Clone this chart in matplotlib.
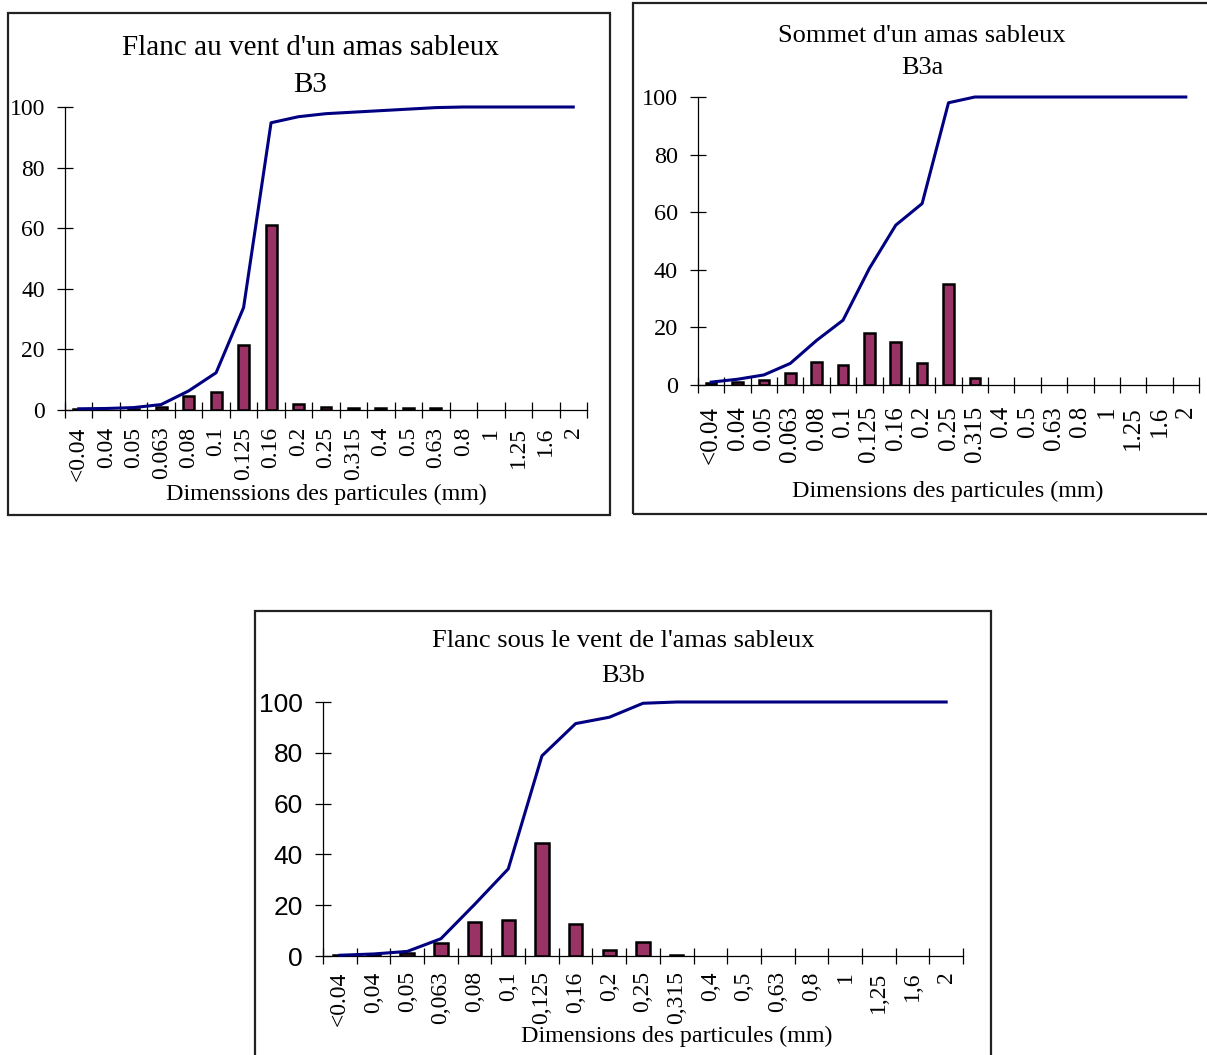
import matplotlib
matplotlib.use("Agg")
import matplotlib.pyplot as plt
from matplotlib.patches import Rectangle

W, H = 1207, 1055

# ---------------- data ----------------
cats_dot = ['<0.04', '0.04', '0.05', '0.063', '0.08', '0.1', '0.125', '0.16', '0.2',
            '0.25', '0.315', '0.4', '0.5', '0.63', '0.8', '1', '1.25', '1.6', '2']
cats_comma = ['<0.04', '0,04', '0,05', '0,063', '0,08', '0,1', '0,125', '0,16', '0,2',
              '0,25', '0,315', '0,4', '0,5', '0,63', '0,8', '1', '1,25', '1,6', '2']

b3_pct = [0.4, 0, 0.3, 1.0, 4.5, 6.0, 21.5, 61.0, 2.0, 1.0, 0.5, 0.5, 0.5, 0.5,
          0, 0, 0, 0, 0]
b3_cum = [0.4, 0.5, 0.8, 1.8, 6.3, 12.3, 33.8, 94.8, 96.8, 97.8, 98.3, 98.8, 99.3,
          99.8, 100, 100, 100, 100, 100]

b3a_pct = [0.6, 1.2, 1.6, 4.0, 8.0, 7.0, 18.0, 15.0, 7.5, 35.0, 2.5, 0, 0, 0,
           0, 0, 0, 0, 0]
b3a_cum = [1.0, 2.0, 3.5, 7.5, 15.5, 22.5, 40.5, 55.5, 63.0, 98.0, 100, 100, 100,
           100, 100, 100, 100, 100, 100]

b3b_pct = [0.3, 0.5, 1.0, 5.0, 13.5, 14.0, 44.5, 12.5, 2.5, 5.5, 0.5, 0, 0, 0,
           0, 0, 0, 0, 0]
b3b_cum = [0.3, 0.8, 1.8, 6.8, 20.3, 34.3, 78.8, 91.5, 94.0, 99.5, 100, 100, 100,
           100, 100, 100, 100, 100, 100]

yticks = [0, 20, 40, 60, 80, 100]

BAR = '#993366'
LINE = '#000080'
SERIF = ['Liberation Serif', 'DejaVu Serif']
SANS = ['Liberation Sans', 'DejaVu Sans']

fig = plt.figure(figsize=(W / 100, H / 100), dpi=100)


def fx(x):
    return x / W


def fy(y):
    return 1 - y / H


def box(l, t, r, b):
    fig.patches.append(Rectangle((fx(l), fy(b)), fx(r) - fx(l), fy(t) - fy(b),
                                 transform=fig.transFigure, fill=False,
                                 edgecolor='#222222', linewidth=1.6, clip_on=False))


def panel(l, r, t, b, cats, pct, cum, xtick_fs, ytick_fs, ytick_family, xlab_pad,
          title, title_fs, title_x, t1y, t2y, xlabel, xlab_x, xlab_y, xlab_fs):
    ax = fig.add_axes([fx(l), fy(b), fx(r) - fx(l), fy(t) - fy(b)])
    n = len(cats)
    x = list(range(n))
    bx = [i for i, v in zip(x, pct) if v > 0]
    bh = [v for v in pct if v > 0]
    ax.bar(bx, bh, width=0.4, color=BAR, edgecolor='black', linewidth=1.8, zorder=2)
    ax.plot(x, cum, color=LINE, linewidth=2.2, zorder=3, clip_on=False)
    ax.set_xlim(-0.5, n - 0.5)
    ax.set_ylim(0, 100)
    for s in ('top', 'right'):
        ax.spines[s].set_visible(False)
    for s in ('left', 'bottom'):
        ax.spines[s].set_linewidth(0.9)
    ax.set_xticks([i - 0.5 for i in range(n + 1)])
    ax.set_xticklabels([])
    ax.set_xticks(x, minor=True)
    ax.set_xticklabels(cats, minor=True, rotation=90, va='top', ha='center',
                       fontsize=xtick_fs, family=SERIF)
    ax.tick_params(axis='x', which='major', direction='inout', length=11, width=0.9)
    ax.tick_params(axis='x', which='minor', length=0, pad=xlab_pad)
    ax.set_yticks(yticks)
    ax.set_yticklabels([str(v) for v in yticks], fontsize=ytick_fs, family=ytick_family)
    ax.tick_params(axis='y', direction='inout', length=11, width=0.9, pad=9)
    ax.patch.set_alpha(0)
    fig.text(fx(title_x), fy(t1y), title[0], ha='center', va='center',
             fontsize=title_fs, family=SERIF)
    fig.text(fx(title_x), fy(t2y), title[1], ha='center', va='center',
             fontsize=title_fs, family=SERIF)
    fig.text(fx(xlab_x), fy(xlab_y), xlabel, ha='center', va='center',
             fontsize=xlab_fs, family=SERIF)
    return ax


# Panel 1
box(8, 13, 610, 515)
panel(65, 587, 107, 410, cats_dot, b3_pct, b3_cum, 17, 17, SERIF, 12,
      ("Flanc au vent d'un amas sableux", "B3"), 21, 310, 48, 85,
      "Dimenssions des particules (mm)", 326, 494, 17.3)

# Panel 2
box(633, 3, 1215, 514)
panel(698, 1199, 97, 385, cats_dot, b3a_pct, b3a_cum, 18, 17.5, SERIF, 15,
      ("Sommet d'un amas sableux", "B3a"), 19, 922, 36, 68,
      "Dimensions des particules (mm)", 948, 491, 17.3)

# Panel 3
box(255, 611, 991, 1070)
panel(323, 963, 702, 956, cats_comma, b3b_pct, b3b_cum, 17, 19, SANS, 11,
      ("Flanc sous le vent de l'amas sableux", "B3b"), 19, 623, 641, 676,
      "Dimensions des particules (mm)", 677, 1036, 17.3)

fig.savefig('out.png', dpi=100)
